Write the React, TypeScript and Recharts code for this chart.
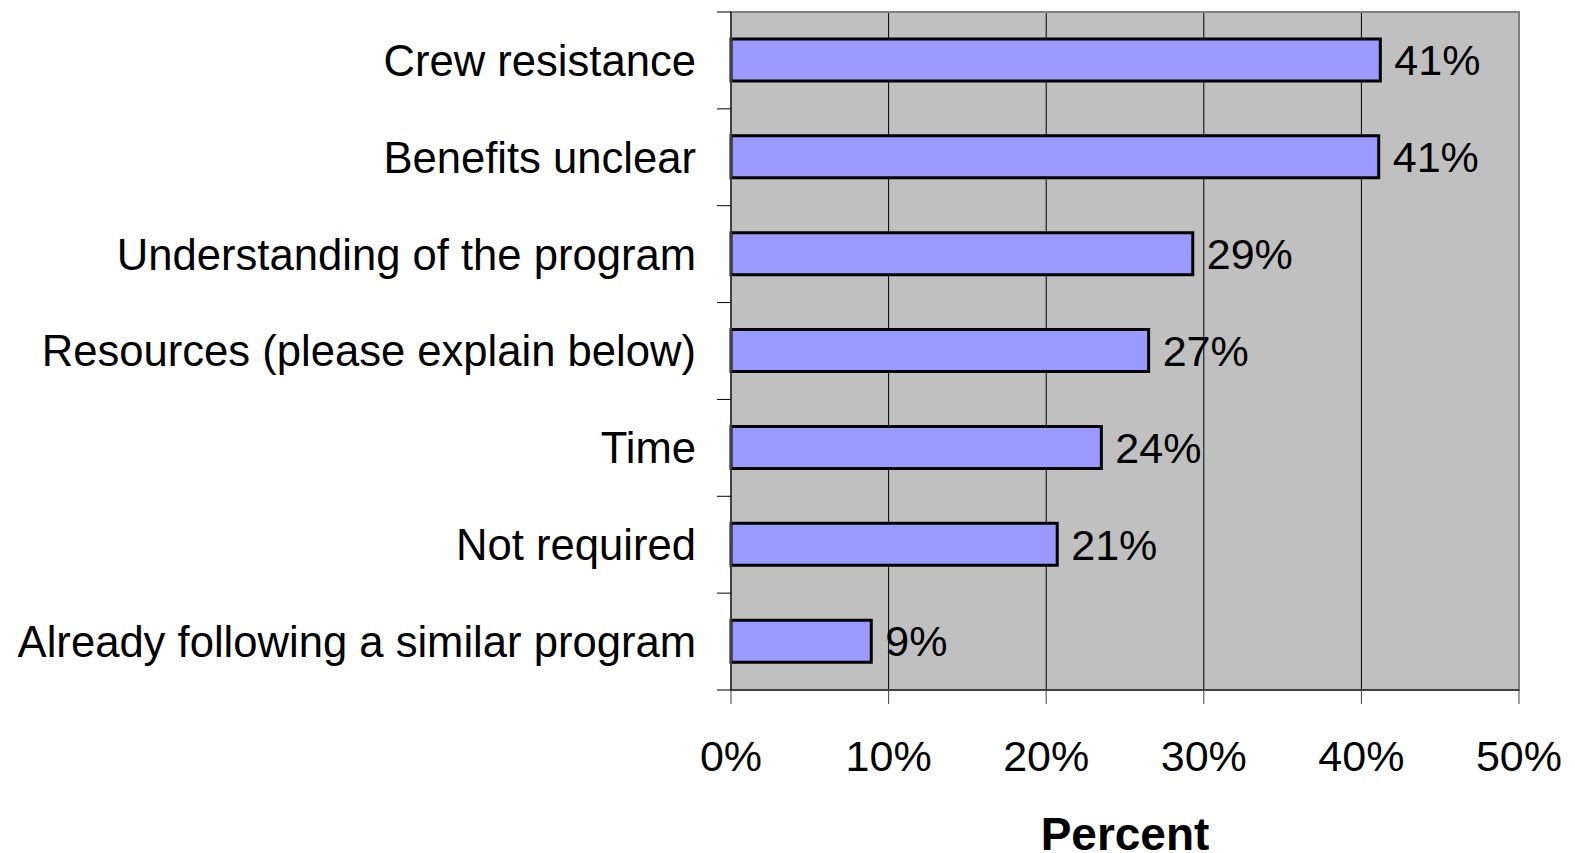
import React from 'react';
import { BarChart, Bar, XAxis, YAxis, CartesianGrid, LabelList, ReferenceArea, Label } from 'recharts';

const categories = [
  'Crew resistance',
  'Benefits unclear',
  'Understanding of the program',
  'Resources (please explain below)',
  'Time',
  'Not required',
  'Already following a similar program',
];
const percents = [41.2, 41.1, 29.3, 26.5, 23.5, 20.7, 8.9];
const xTicks = [0, 10, 20, 30, 40, 50];

const data = categories.map((c, i) => ({ name: c, value: percents[i] }));

const FONT = '"Liberation Sans", Arial, sans-serif';
const W = 1575;
const H = 853;
const M = { top: 12, right: 56, bottom: 0, left: 0 };
const Y_W = 731;
const X_H = 163;
const plotH = H - M.top - M.bottom - X_H;
const band = plotH / categories.length;

const YTick = (props: any) => {
  const { x, y, payload, index } = props;
  const axisX = x + 35;
  const top = y - band / 2;
  const bottom = y + band / 2;
  return (
    <g>
      <line x1={axisX - 14} x2={axisX} y1={top} y2={top} stroke="#000" strokeWidth={1} />
      {index === categories.length - 1 && (
        <line x1={axisX - 14} x2={axisX} y1={bottom} y2={bottom} stroke="#000" strokeWidth={1} />
      )}
      <text x={x} y={y} dy="0.355em" textAnchor="end" fontSize={43.6} fontFamily={FONT} fill="#000">
        {payload.value}
      </text>
    </g>
  );
};

export default function App() {
  return (
    <div style={{ position: 'absolute', left: 0, top: 0, background: '#fff' }}>
      <BarChart
        width={W}
        height={H}
        data={data}
        layout="vertical"
        margin={M}
        barSize={42}
      >
        <CartesianGrid horizontal={false} vertical stroke="#000" strokeWidth={1} fill="#C0C0C0" />
        <XAxis
          type="number"
          domain={[0, 50]}
          ticks={xTicks}
          interval={0}
          height={X_H}
          tickFormatter={(v: number) => `${v}%`}
          tick={{ fontSize: 43, fontFamily: FONT, fill: '#000' }}
          tickSize={14}
          tickMargin={36}
          stroke="#404040"
          axisLine={{ stroke: '#404040', strokeWidth: 2 }}
          tickLine={{ stroke: '#404040', strokeWidth: 1 }}
        >
          <Label
            value="Percent"
            position="insideBottom"
            offset={3}
            style={{ fontSize: 46, fontWeight: 'bold', fontFamily: FONT, fill: '#000' }}
          />
        </XAxis>
        <YAxis
          type="category"
          dataKey="name"
          width={Y_W}
          tickSize={14}
          tickMargin={21}
          tickLine={false}
          interval={0}
          axisLine={{ stroke: '#404040', strokeWidth: 2 }}
          tick={<YTick />}
        />
        <ReferenceArea x1={0} x2={50} fill="none" stroke="#808080" strokeWidth={2} />
        <Bar
          dataKey="value"
          fill="#9999FF"
          stroke="#000"
          strokeWidth={3}
          isAnimationActive={false}
        >
          <LabelList
            dataKey="value"
            position="right"
            offset={14}
            formatter={(v: any) => `${Math.round(Number(v))}%`}
            style={{ fontSize: 43, fontFamily: FONT, fill: '#000' }}
          />
        </Bar>
      </BarChart>
    </div>
  );
}
